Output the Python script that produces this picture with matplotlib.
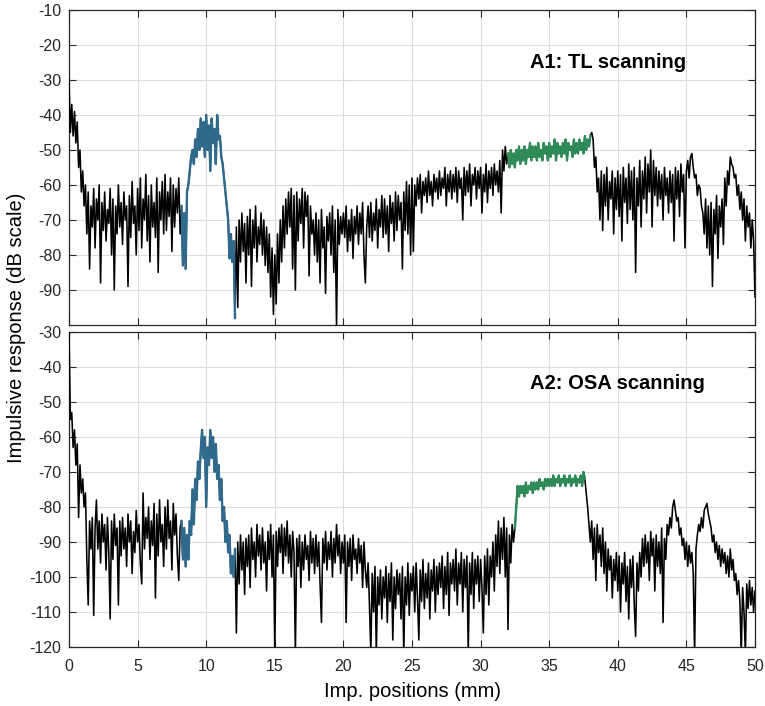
import numpy as np
import matplotlib
matplotlib.use("Agg")
import matplotlib.pyplot as plt

plt.rcParams["font.family"] = ["Liberation Sans", "DejaVu Sans"]
plt.rcParams["axes.unicode_minus"] = False

# Impulse positions (mm), sampled every 0.1 mm
positions = np.linspace(0, 50, 501)

# A1: tunable-laser scan, impulse response in dB (one row per mm)
a1_db = [
    -30, -45, -37, -46, -39, -48, -42, -55, -50, -62,   # 0
    -56, -66, -60, -74, -62, -84, -66, -72, -61, -78,   # 1
    -64, -70, -60, -88, -65, -73, -62, -76, -67, -71,   # 2
    -61, -80, -64, -90, -66, -74, -60, -72, -65, -77,   # 3
    -62, -70, -66, -89, -63, -75, -59, -71, -66, -80,   # 4
    -61, -73, -58, -78, -64, -70, -57, -76, -63, -82,   # 5
    -60, -72, -65, -75, -58, -85, -62, -70, -59, -74,   # 6
    -57, -73, -62, -69, -58, -79, -60, -72, -61, -68,   # 7
    -58, -74, -66, -83, -68, -84, -62, -60, -56, -52,   # 8
    -50, -54, -47, -52, -44, -50, -41, -49, -42, -52,   # 9
    -40, -50, -43, -56, -41, -48, -44, -54, -40, -47,   # 10
    -46, -52, -54, -58, -62, -66, -70, -81, -74, -82,   # 11
    -76, -98, -72, -95, -70, -82, -68, -79, -71, -88,   # 12
    -69, -80, -67, -89, -70, -78, -66, -82, -72, -77,   # 13
    -68, -80, -70, -83, -72, -85, -74, -92, -78, -97,   # 14
    -80, -94, -74, -88, -70, -82, -66, -78, -64, -74,   # 15
    -62, -72, -61, -84, -63, -90, -62, -76, -64, -71,   # 16
    -61, -78, -62, -69, -63, -86, -66, -74, -70, -80,   # 17
    -68, -82, -70, -88, -67, -78, -72, -91, -69, -76,   # 18
    -68, -80, -66, -85, -70, -101, -67, -77, -69, -74,  # 19
    -68, -75, -66, -79, -70, -76, -67, -81, -69, -74,   # 20
    -66, -77, -68, -74, -65, -80, -88, -72, -66, -75,   # 21
    -65, -76, -68, -73, -64, -78, -67, -72, -63, -75,   # 22
    -64, -74, -66, -79, -63, -71, -65, -76, -62, -73,   # 23
    -63, -70, -65, -84, -62, -73, -59, -74, -60, -80,   # 24
    -58, -79, -60, -66, -58, -64, -57, -68, -59, -63,   # 25
    -58, -65, -56, -63, -59, -66, -57, -62, -58, -64,   # 26
    -56, -63, -58, -61, -55, -66, -57, -62, -56, -64,   # 27
    -57, -62, -55, -65, -56, -61, -58, -70, -55, -63,   # 28
    -56, -62, -54, -66, -57, -60, -55, -64, -56, -61,   # 29
    -55, -68, -57, -62, -54, -65, -56, -61, -55, -63,   # 30
    -54, -60, -56, -62, -53, -68, -50, -56, -49, -54,   # 31
    -51, -55, -50, -54, -51, -55, -50, -53, -49, -54,   # 32
    -50, -53, -49, -54, -50, -52, -48, -53, -49, -52,   # 33
    -49, -53, -48, -52, -50, -53, -48, -51, -49, -53,   # 34
    -48, -52, -49, -51, -47, -53, -48, -51, -49, -52,   # 35
    -48, -51, -47, -53, -48, -50, -49, -52, -47, -51,   # 36
    -48, -51, -47, -50, -48, -51, -46, -50, -47, -49,   # 37
    -46, -45, -47, -55, -52, -62, -58, -70, -56, -73,   # 38
    -57, -66, -55, -70, -59, -64, -56, -74, -58, -67,   # 39
    -56, -69, -57, -76, -55, -65, -58, -71, -54, -67,   # 40
    -56, -70, -55, -85, -58, -66, -53, -72, -56, -64,   # 41
    -52, -68, -54, -62, -50, -72, -53, -63, -55, -66,   # 42
    -56, -64, -57, -70, -55, -63, -58, -68, -56, -65,   # 43
    -57, -76, -55, -64, -56, -69, -54, -62, -57, -78,   # 44
    -56, -53, -58, -52, -51, -55, -58, -57, -63, -60,   # 45
    -61, -66, -68, -74, -64, -78, -66, -80, -65, -89,   # 46
    -67, -74, -63, -81, -66, -72, -64, -77, -58, -66,   # 47
    -56, -60, -52, -54, -55, -58, -57, -63, -60, -67,   # 48
    -62, -70, -64, -76, -66, -72, -68, -78, -70, -76,   # 49
    -92,
]

# A2: OSA scan, impulse response in dB (one row per mm)
a2_db = [
    -30, -55, -53, -63, -58, -68, -62, -83, -68, -76,   # 0
    -72, -80, -76, -95, -108, -84, -92, -83, -111, -86,  # 1
    -78, -92, -84, -96, -82, -90, -85, -98, -83, -93,   # 2
    -112, -84, -95, -82, -91, -86, -108, -84, -94, -83,  # 3
    -92, -86, -97, -82, -90, -84, -99, -87, -93, -81,   # 4
    -90, -85, -96, -102, -76, -92, -83, -89, -80, -95,  # 5
    -84, -91, -79, -106, -82, -94, -78, -90, -85, -97,  # 6
    -80, -92, -78, -89, -84, -98, -79, -88, -82, -94,   # 7
    -101, -86, -84, -95, -86, -97, -88, -95, -84, -88,  # 8
    -75, -85, -72, -78, -67, -72, -64, -58, -66, -60,   # 9
    -80, -63, -68, -58, -66, -60, -70, -62, -72, -68,   # 10
    -78, -72, -84, -80, -90, -84, -93, -88, -99, -94,   # 11
    -100, -92, -116, -90, -102, -88, -98, -90, -105, -89,  # 12
    -97, -88, -103, -86, -95, -90, -100, -85, -94, -88,  # 13
    -98, -86, -96, -90, -104, -87, -95, -85, -100, -88,  # 14
    -122, -87, -97, -86, -93, -85, -99, -86, -94, -84,  # 15
    -96, -88, -100, -87, -93, -122, -89, -97, -88, -103,  # 16
    -90, -98, -88, -95, -91, -101, -87, -96, -89, -99,  # 17
    -88, -97, -90, -102, -113, -89, -96, -87, -98, -90,  # 18
    -95, -87, -100, -89, -96, -85, -94, -88, -99, -90,  # 19
    -96, -88, -113, -90, -97, -89, -101, -88, -95, -92,  # 20
    -99, -89, -96, -91, -103, -90, -98, -103, -96, -108,  # 21
    -122, -99, -110, -97, -122, -100, -108, -98, -112, -100,  # 22
    -106, -97, -113, -99, -107, -96, -118, -100, -109, -98,  # 23
    -105, -99, -112, -97, -122, -100, -108, -96, -111, -99,  # 24
    -104, -97, -110, -96, -106, -118, -98, -107, -95, -109,  # 25
    -99, -106, -96, -112, -98, -104, -95, -110, -97, -105,  # 26
    -96, -103, -94, -109, -97, -105, -93, -111, -96, -102,  # 27
    -95, -104, -92, -108, -96, -102, -93, -110, -95, -103,  # 28
    -94, -122, -96, -105, -93, -109, -95, -102, -94, -107,  # 29
    -95, -103, -116, -94, -105, -92, -108, -94, -100, -90,  # 30
    -104, -88, -97, -84, -99, -86, -95, -83, -100, -86,  # 31
    -115, -88, -96, -85, -90, -86, -80, -74, -77, -74,  # 32
    -76, -74, -77, -73, -76, -74, -75, -73, -76, -73,   # 33
    -75, -73, -75, -72, -74, -73, -75, -72, -74, -72,   # 34
    -74, -72, -74, -71, -74, -72, -73, -71, -74, -72,   # 35
    -73, -71, -74, -72, -73, -71, -74, -72, -73, -71,   # 36
    -74, -72, -73, -71, -74, -70, -72, -76, -80, -85,   # 37
    -90, -84, -95, -86, -101, -85, -93, -88, -97, -86,  # 38
    -99, -90, -104, -92, -98, -94, -106, -95, -101, -93,  # 39
    -104, -94, -110, -96, -102, -93, -107, -97, -112, -95,  # 40
    -103, -94, -108, -117, -96, -104, -93, -100, -89, -97,  # 41
    -88, -96, -90, -101, -87, -94, -89, -104, -88, -97,  # 42
    -90, -99, -86, -113, -89, -95, -85, -88, -83, -86,  # 43
    -80, -78, -81, -84, -83, -88, -86, -91, -89, -95,   # 44
    -90, -97, -91, -96, -93, -99, -122, -92, -88, -85,  # 45
    -87, -83, -86, -81, -80, -79, -82, -84, -86, -90,   # 46
    -88, -93, -90, -95, -91, -97, -92, -96, -93, -99,   # 47
    -94, -100, -92, -98, -95, -101, -99, -105, -101, -107,  # 48
    -122, -103, -110, -122, -102, -109, -101, -108, -103, -110,  # 49
    -104,
]

# Highlighted position ranges (mm): first reflector (blue) and grating (green)
a1_blue = (8.2, 12.1)
a1_green = (32.0, 38.0)
a2_blue = (8.2, 12.1)
a2_green = (32.5, 37.6)

BLUE = "#2f6a8c"
GREEN = "#2e8b57"
AXIS = "#262626"

panels = [
    dict(y=a1_db, blue=a1_blue, green=a1_green, ylim=(-100, -10),
         yticks=np.arange(-90, -9, 10), label="A1: TL scanning", ly=-26.7),
    dict(y=a2_db, blue=a2_blue, green=a2_green, ylim=(-120, -30),
         yticks=np.arange(-120, -29, 10), label="A2: OSA scanning", ly=-46.2),
]

fig = plt.figure(figsize=(7.65, 7.06), dpi=100)
ax_top = fig.add_axes([0.0902, 0.5397, 0.8967, 0.4462])
ax_bot = fig.add_axes([0.0902, 0.0836, 0.8967, 0.4462])

for ax, p in zip([ax_top, ax_bot], panels):
    y = np.asarray(p["y"], dtype=float)
    ax.plot(positions, y, color="black", lw=1.15, zorder=3)
    for (lo, hi), col in [(p["blue"], BLUE), (p["green"], GREEN)]:
        m = (positions >= lo - 1e-9) & (positions <= hi + 1e-9)
        ax.plot(positions[m], y[m], color=col, lw=1.7, zorder=4)

    ax.set_xlim(0, 50)
    ax.set_ylim(*p["ylim"])
    ax.set_xticks(np.arange(0, 51, 5))
    ax.set_yticks(p["yticks"])
    ax.grid(True, color="#dcdcdc", lw=0.8)
    ax.set_axisbelow(True)
    ax.tick_params(direction="in", length=5, width=0.8, top=True, right=True,
                   colors=AXIS, labelsize=11.5)
    ax.tick_params(axis="y", pad=5.5)
    ax.tick_params(axis="x", pad=9)
    for s in ax.spines.values():
        s.set_color(AXIS)
        s.set_linewidth(0.9)
    ax.text(33.6, p["ly"], p["label"], fontsize=14.5, fontweight="bold",
            color="black", ha="left", va="baseline", zorder=5)

ax_top.tick_params(labelbottom=False)

fig.text(0.022, 0.535, "Impulsive response (dB scale)", rotation=90,
         ha="center", va="center", fontsize=14.5, color="black")
fig.text(0.5386, 0.0127, "Imp. positions (mm)", ha="center", va="baseline",
         fontsize=14.5, color="black")

fig.savefig("out.png", dpi=100)
